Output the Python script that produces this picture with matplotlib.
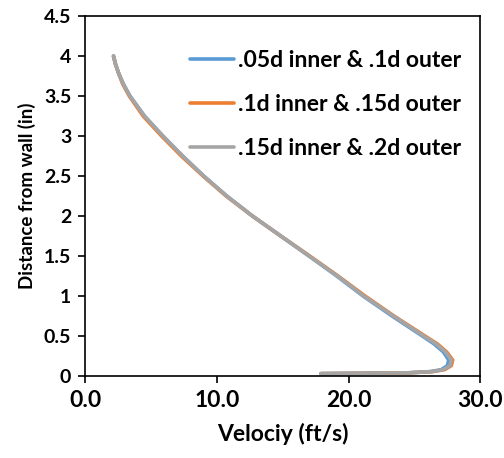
import matplotlib.pyplot as plt

# velocity profile, three mesh settings
dist = [4.0, 3.9, 3.78, 3.65, 3.5, 3.25, 3.0, 2.75, 2.5, 2.25, 2.0, 1.75, 1.5,
        1.25, 1.0, 0.75, 0.5, 0.4, 0.3, 0.2, 0.13, 0.08, 0.055, 0.04, 0.035, 0.03]
vel_05 = [2.15, 2.3, 2.55, 2.9, 3.4, 4.5, 5.9, 7.4, 9.0, 10.75, 12.7, 14.85, 17.0,
          19.1, 21.1, 23.3, 25.6, 26.5, 27.2, 27.6, 27.5, 27.05, 26.2, 24.5, 21.5, 17.9]
vel_10 = [2.15, 2.3, 2.55, 2.85, 3.35, 4.4, 5.8, 7.3, 8.95, 10.7, 12.7, 14.85, 17.05,
          19.2, 21.25, 23.45, 25.8, 26.75, 27.45, 27.9, 27.8, 27.3, 26.4, 24.6, 21.5, 17.9]
vel_15 = [2.15, 2.3, 2.55, 2.9, 3.4, 4.5, 5.9, 7.4, 9.0, 10.75, 12.7, 14.85, 17.0,
          19.15, 21.15, 23.4, 25.7, 26.65, 27.35, 27.8, 27.7, 27.2, 26.3, 24.5, 21.5, 17.9]
labels = ['.05d inner & .1d outer', '.1d inner & .15d outer', '.15d inner & .2d outer']
colors = ['#5B9BD5', '#ED7D31', '#A5A5A5']

plt.rcParams['font.family'] = ['Lato', 'DejaVu Sans']
plt.rcParams['font.weight'] = 'bold'

fig = plt.figure(figsize=(5.04, 4.58), dpi=100)
fig.set_facecolor('white')
ax = fig.add_axes([0.169, 0.179, 0.784, 0.786])

for v, lab, c in zip([vel_05, vel_10, vel_15], labels, colors):
    ax.plot(v, dist, color=c, linewidth=2.6, label=lab,
            solid_capstyle='round', solid_joinstyle='round')

ax.set_xlim(0, 30)
ax.set_ylim(0, 4.5)
ax.set_xticks([0, 10, 20, 30])
ax.set_xticklabels(['0.0', '10.0', '20.0', '30.0'])
ax.set_yticks([0, 0.5, 1, 1.5, 2, 2.5, 3, 3.5, 4, 4.5])
ax.set_yticklabels(['0', '0.5', '1', '1.5', '2', '2.5', '3', '3.5', '4', '4.5'])
ax.tick_params(axis='x', labelsize=16.5, length=5, width=1.2, pad=5)
ax.tick_params(axis='y', labelsize=14, length=5, width=1.2, pad=5)
for s in ax.spines.values():
    s.set_linewidth(1.2)

ax.set_xlabel('Velociy (ft/s)', fontsize=16.5, fontweight='bold', labelpad=9)
ax.set_ylabel('Distance from wall (in)', fontsize=13.5, fontweight='bold', labelpad=6)

leg = ax.legend(loc='upper left', frameon=False, fontsize=16.5, handlelength=1.9,
                handletextpad=0.2, labelspacing=1.0, borderpad=0, borderaxespad=0,
                bbox_to_anchor=(0.266, 0.905))

fig.savefig('out.png', dpi=100, facecolor='white')
